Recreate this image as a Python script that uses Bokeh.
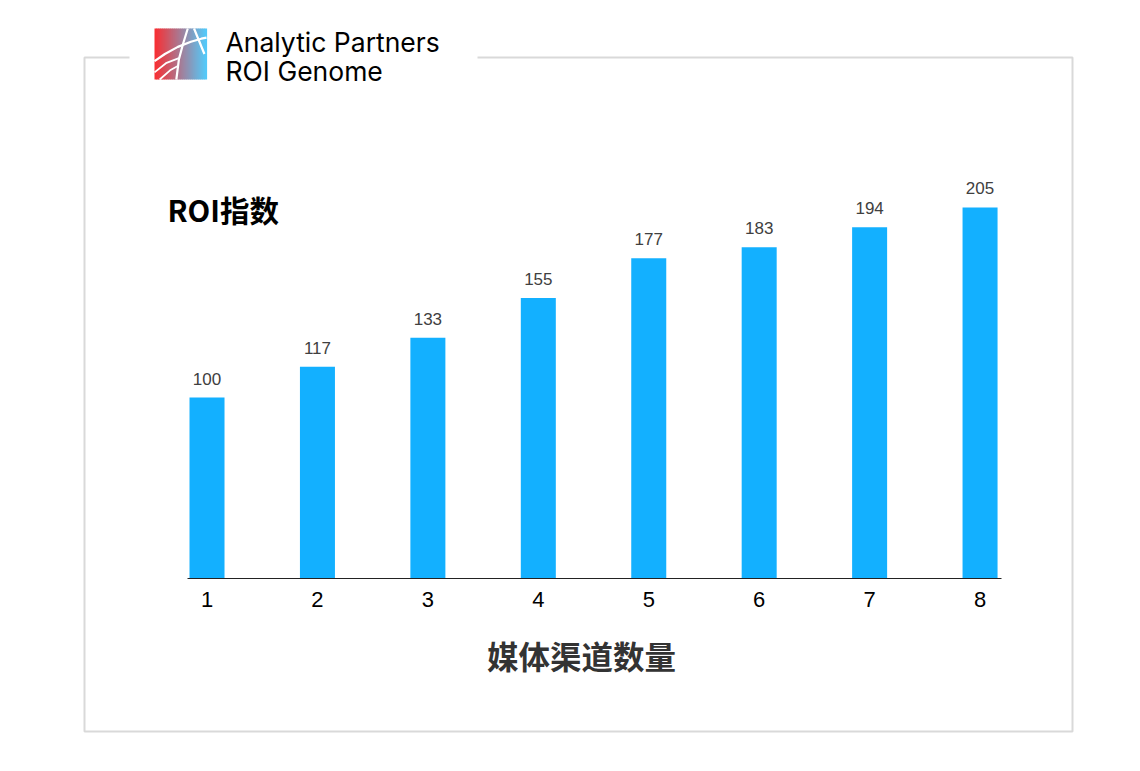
from bokeh.plotting import figure
from bokeh.models import ColumnDataSource, Label, BoxAnnotation, PolyAnnotation, FixedTicker, Range1d
from bokeh.core.properties import value
from bokeh.embed import file_html
from bokeh.resources import INLINE

# ---- data ----
channels = [1, 2, 3, 4, 5, 6, 7, 8]
roi_index = [100, 117, 133, 155, 177, 183, 194, 205]
tick_labels = ["1", "2", "3", "4", "5", "6", "7", "8"]
y_title = "ROI指数"
x_title = "媒体渠道数量"
brand_line1 = "Analytic Partners"
brand_line2 = "ROI Genome"

BAR_COLOR = "#13b0ff"
W, H = 1124, 755

src = ColumnDataSource(dict(x=channels, top=roi_index, label=[str(v) for v in roi_index]))

p = figure(width=W, height=H,
           x_range=Range1d(-0.870, 9.308), y_range=Range1d(-97.79, 319.34),
           y_axis_location=None,
           output_backend="svg", toolbar_location=None,
           min_border_left=0, min_border_right=0,
           min_border_top=0, min_border_bottom=0, min_border=0)
p.grid.visible = False
p.outline_line_color = None
p.background_fill_color = "white"
p.border_fill_color = "white"

ax = p.xaxis[0]
ax.fixed_location = 0
ax.bounds = (0.8234, 8.1944)
ax.ticker = FixedTicker(ticks=channels)
ax.major_label_overrides = {c: t for c, t in zip(channels, tick_labels)}
ax.major_tick_out = 0
ax.major_tick_in = 0
ax.minor_tick_out = 0
ax.minor_tick_in = 0
ax.axis_line_color = "#222222"
ax.axis_line_width = 1
ax.major_label_standoff = 13
ax.major_label_text_font = "Liberation Sans"
ax.major_label_text_font_size = "22px"
ax.major_label_text_color = "#000000"


# ---- decorations (screen units relative to frame bottom-left) ----
def sx(px):
    return px


def sy(py):
    return H - py


# outer light-grey box
p.add_layout(BoxAnnotation(left=sx(84), right=sx(1072), top=sy(57), bottom=sy(731),
                           left_units="screen", right_units="screen",
                           top_units="screen", bottom_units="screen",
                           fill_alpha=0, line_color="#d9d9d9", line_alpha=1, line_width=2))
# gap in the top edge behind the logo
p.add_layout(BoxAnnotation(left=sx(129), right=sx(477), top=sy(52), bottom=sy(62),
                           left_units="screen", right_units="screen",
                           top_units="screen", bottom_units="screen",
                           fill_color="white", fill_alpha=1, line_alpha=0))

p.vbar(x="x", top="top", width=0.317, bottom=0, source=src,
       fill_color=BAR_COLOR, line_color=None)
p.text(x="x", y="top", text="label", source=src,
       text_align="center", text_baseline="alphabetic", y_offset=-19,
       text_font=value("Liberation Sans"), text_font_size="17px",
       text_color="#404040")

# logo square with red -> blue gradient
L0, L1, T0, T1 = 154, 206, 28, 79
n = 26
c0 = (247, 48, 52)
c1 = (84, 200, 248)
for i in range(n):
    f = i / (n - 1)
    col = "#%02x%02x%02x" % tuple(int(round(a + (b - a) * f)) for a, b in zip(c0, c1))
    xa = L0 + (L1 - L0) * i / n
    xb = L0 + (L1 - L0) * (i + 1) / n + 0.6
    p.add_layout(BoxAnnotation(left=sx(xa), right=sx(xb), top=sy(T0), bottom=sy(T1),
                               left_units="screen", right_units="screen",
                               top_units="screen", bottom_units="screen",
                               fill_color=col, fill_alpha=1, line_alpha=0))


def logo_line(pts, w=2.2):
    xs = [sx(L0 + (L1 - L0) * u) for u, v in pts]
    ys = [sy(T0 + (T1 - T0) * v) for u, v in pts]
    xs = xs + xs[::-1]
    ys = ys + ys[::-1]
    p.add_layout(PolyAnnotation(xs=xs, ys=ys, xs_units="screen", ys_units="screen",
                                fill_alpha=0, line_color="white", line_alpha=1,
                                line_width=w))


logo_line([(0.0, 0.64), (0.2, 0.5), (0.45, 0.36), (0.7, 0.26), (0.9, 0.2), (1.0, 0.18)])
logo_line([(0.64, 0.0), (0.55, 0.3), (0.47, 0.6), (0.42, 1.0)])
logo_line([(0.76, 0.0), (0.86, 0.25), (0.96, 0.5)])
logo_line([(0.0, 0.86), (0.22, 0.68), (0.47, 0.58)], 1.8)
logo_line([(0.1, 1.0), (0.3, 0.82), (0.44, 0.74)], 1.8)

p.add_layout(Label(x=sx(225), y=sy(41), x_units="screen", y_units="screen",
                   text=brand_line1, text_font="Inter", text_font_size="26.5px",
                   text_color="#000000", text_baseline="middle", text_align="left"))
p.add_layout(Label(x=sx(225), y=sy(70), x_units="screen", y_units="screen",
                   text=brand_line2, text_font="Inter", text_font_size="26.5px",
                   text_color="#000000", text_baseline="middle", text_align="left"))

# titles
p.add_layout(Label(x=sx(167), y=sy(208), x_units="screen", y_units="screen",
                   text=y_title, text_font="Noto Sans CJK SC", text_font_size="29.5px",
                   text_font_style="bold", text_color="#000000",
                   text_baseline="middle", text_align="left"))
p.add_layout(Label(x=sx(581), y=sy(654), x_units="screen", y_units="screen",
                   text=x_title, text_font="Noto Sans CJK SC", text_font_size="31.5px",
                   text_font_style="bold", text_color="#333333",
                   text_baseline="middle", text_align="center"))

open("out.html", "w").write(file_html(p, INLINE))
